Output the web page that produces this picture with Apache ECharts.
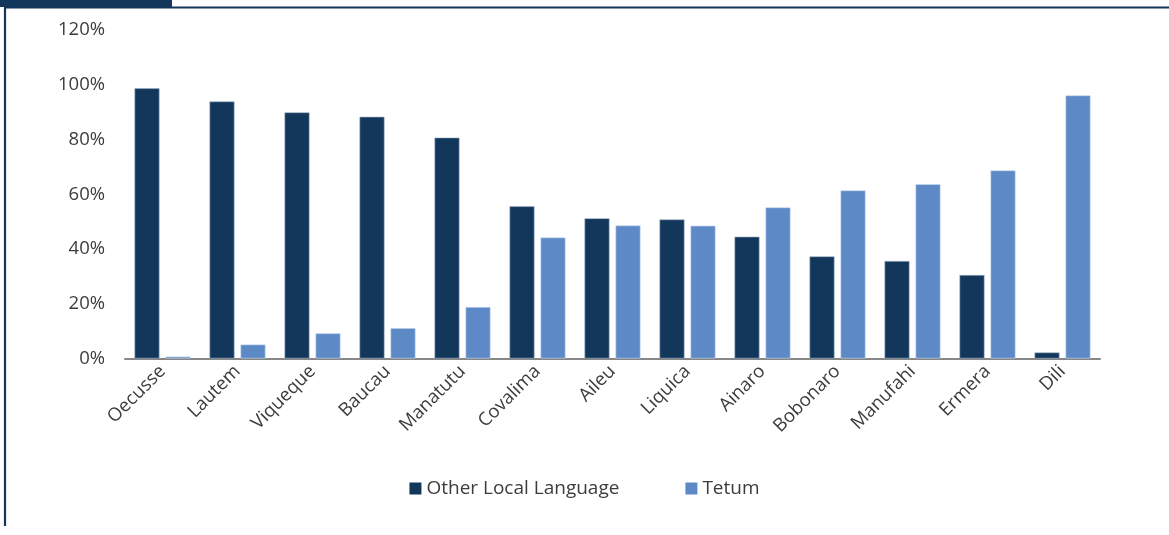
<!DOCTYPE html>
<html>
<head>
<meta charset="utf-8">
<script src="https://cdn.jsdelivr.net/npm/echarts@6/dist/echarts.min.js"></script>
<style>
  html, body { margin: 0; padding: 0; background: #ffffff; }
  #chart { width: 1169px; height: 535px; }
</style>
</head>
<body>
<div id="chart"></div>
<script>
// Districts of Timor-Leste
var districts = ['Oecusse', 'Lautem', 'Viqueque', 'Baucau', 'Manatutu', 'Covalima', 'Aileu',
  'Liquica', 'Ainaro', 'Bobonaro', 'Manufahi', 'Ermera', 'Dili'];

// Share of population (%) by main language
var otherLocal = [98.7, 93.9, 89.9, 88.3, 80.7, 55.6, 51.2, 50.8, 44.5, 37.3, 35.6, 30.5, 2.2];
var tetum = [0.7, 5.1, 9.2, 11.1, 18.8, 44.2, 48.6, 48.5, 55.2, 61.4, 63.7, 68.7, 96.1];

var seriesNames = ['Other Local Language', 'Tetum'];
var yTicks = { min: 0, max: 120, interval: 20 };

var navy = '#13375b';
var blue = '#5d8ac7';
var textColor = '#3c3c3c';
var font = '"Open Sans", "Noto Sans", sans-serif';

var chart = echarts.init(document.getElementById('chart'), null, { renderer: 'canvas' });

chart.setOption({
  animation: false,
  textStyle: { fontFamily: font },
  grid: { left: 125, right: 69, top: 30, bottom: 176.5 },
  legend: {
    data: seriesNames,
    bottom: 32,
    left: 'center',
    itemWidth: 12,
    itemHeight: 12,
    itemGap: 66,
    icon: 'rect',
    itemStyle: { borderWidth: 0 },
    textStyle: { color: textColor, fontSize: 19, fontFamily: font }
  },
  xAxis: {
    type: 'category',
    data: districts,
    axisLine: { lineStyle: { color: '#878787', width: 2 } },
    axisTick: { show: false },
    axisLabel: {
      rotate: 45,
      color: textColor,
      fontSize: 18.5,
      fontFamily: font,
      margin: 10,
      interval: 0
    }
  },
  yAxis: {
    type: 'value',
    min: yTicks.min,
    max: yTicks.max,
    interval: yTicks.interval,
    splitLine: { show: false },
    axisLine: { show: false },
    axisTick: { show: false },
    axisLabel: {
      formatter: '{value}%',
      color: textColor,
      fontSize: 18.5,
      fontFamily: font,
      margin: 20
    }
  },
  series: [
    {
      name: seriesNames[0],
      type: 'bar',
      data: otherLocal,
      barWidth: 25,
      barGap: '24%',
      itemStyle: { color: navy, borderColor: '#9fb3c8', borderWidth: 0.6 }
    },
    {
      name: seriesNames[1],
      type: 'bar',
      data: tetum,
      barWidth: 25,
      itemStyle: { color: blue, borderColor: '#c9daf0', borderWidth: 0.6 }
    }
  ],
  graphic: [
    { type: 'rect', left: 0, top: 0, shape: { x: 0, y: 0, width: 172, height: 7 }, style: { fill: navy }, silent: true },
    { type: 'line', shape: { x1: 4, y1: 7.5, x2: 1169, y2: 7.5 }, style: { stroke: navy, lineWidth: 2.2 }, silent: true },
    { type: 'line', shape: { x1: 5, y1: 7, x2: 5, y2: 526 }, style: { stroke: navy, lineWidth: 2.2 }, silent: true }
  ]
});
</script>
</body>
</html>
